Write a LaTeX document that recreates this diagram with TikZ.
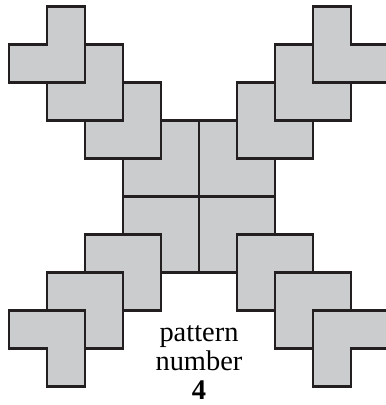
\documentclass[tikz,border=0pt]{standalone}
\usepackage{fontspec}
\setmainfont{Liberation Serif}
\usepackage{tikz}
\definecolor{tilegray}{RGB}{203,204,206}
\definecolor{tileline}{RGB}{35,31,32}

\begin{document}
\begin{tikzpicture}[tile/.style={draw=tileline, line width=2.1pt, fill=tilegray, line join=miter}]
  \useasboundingbox (-5.237,-5.482) rectangle (4.895,5.176);
  % four arms of L tiles, mirrored about the centre
  \foreach \sx/\sy in {1/1,-1/1,1/-1,-1/-1}
    \foreach \i in {0,...,3}
      \draw[tile, xscale=\sx, yscale=\sy] (\i-4,5-\i) -- ++(1,0) -- ++(0,-2) -- ++(-2,0) -- ++(0,1) -- ++(1,0) -- cycle;
  \node[anchor=base, align=center, font=\fontsize{21.3}{21.8}\selectfont] (caption) at (0,-5.34) {pattern\\number\\\textbf{4}};
\end{tikzpicture}
\end{document}
